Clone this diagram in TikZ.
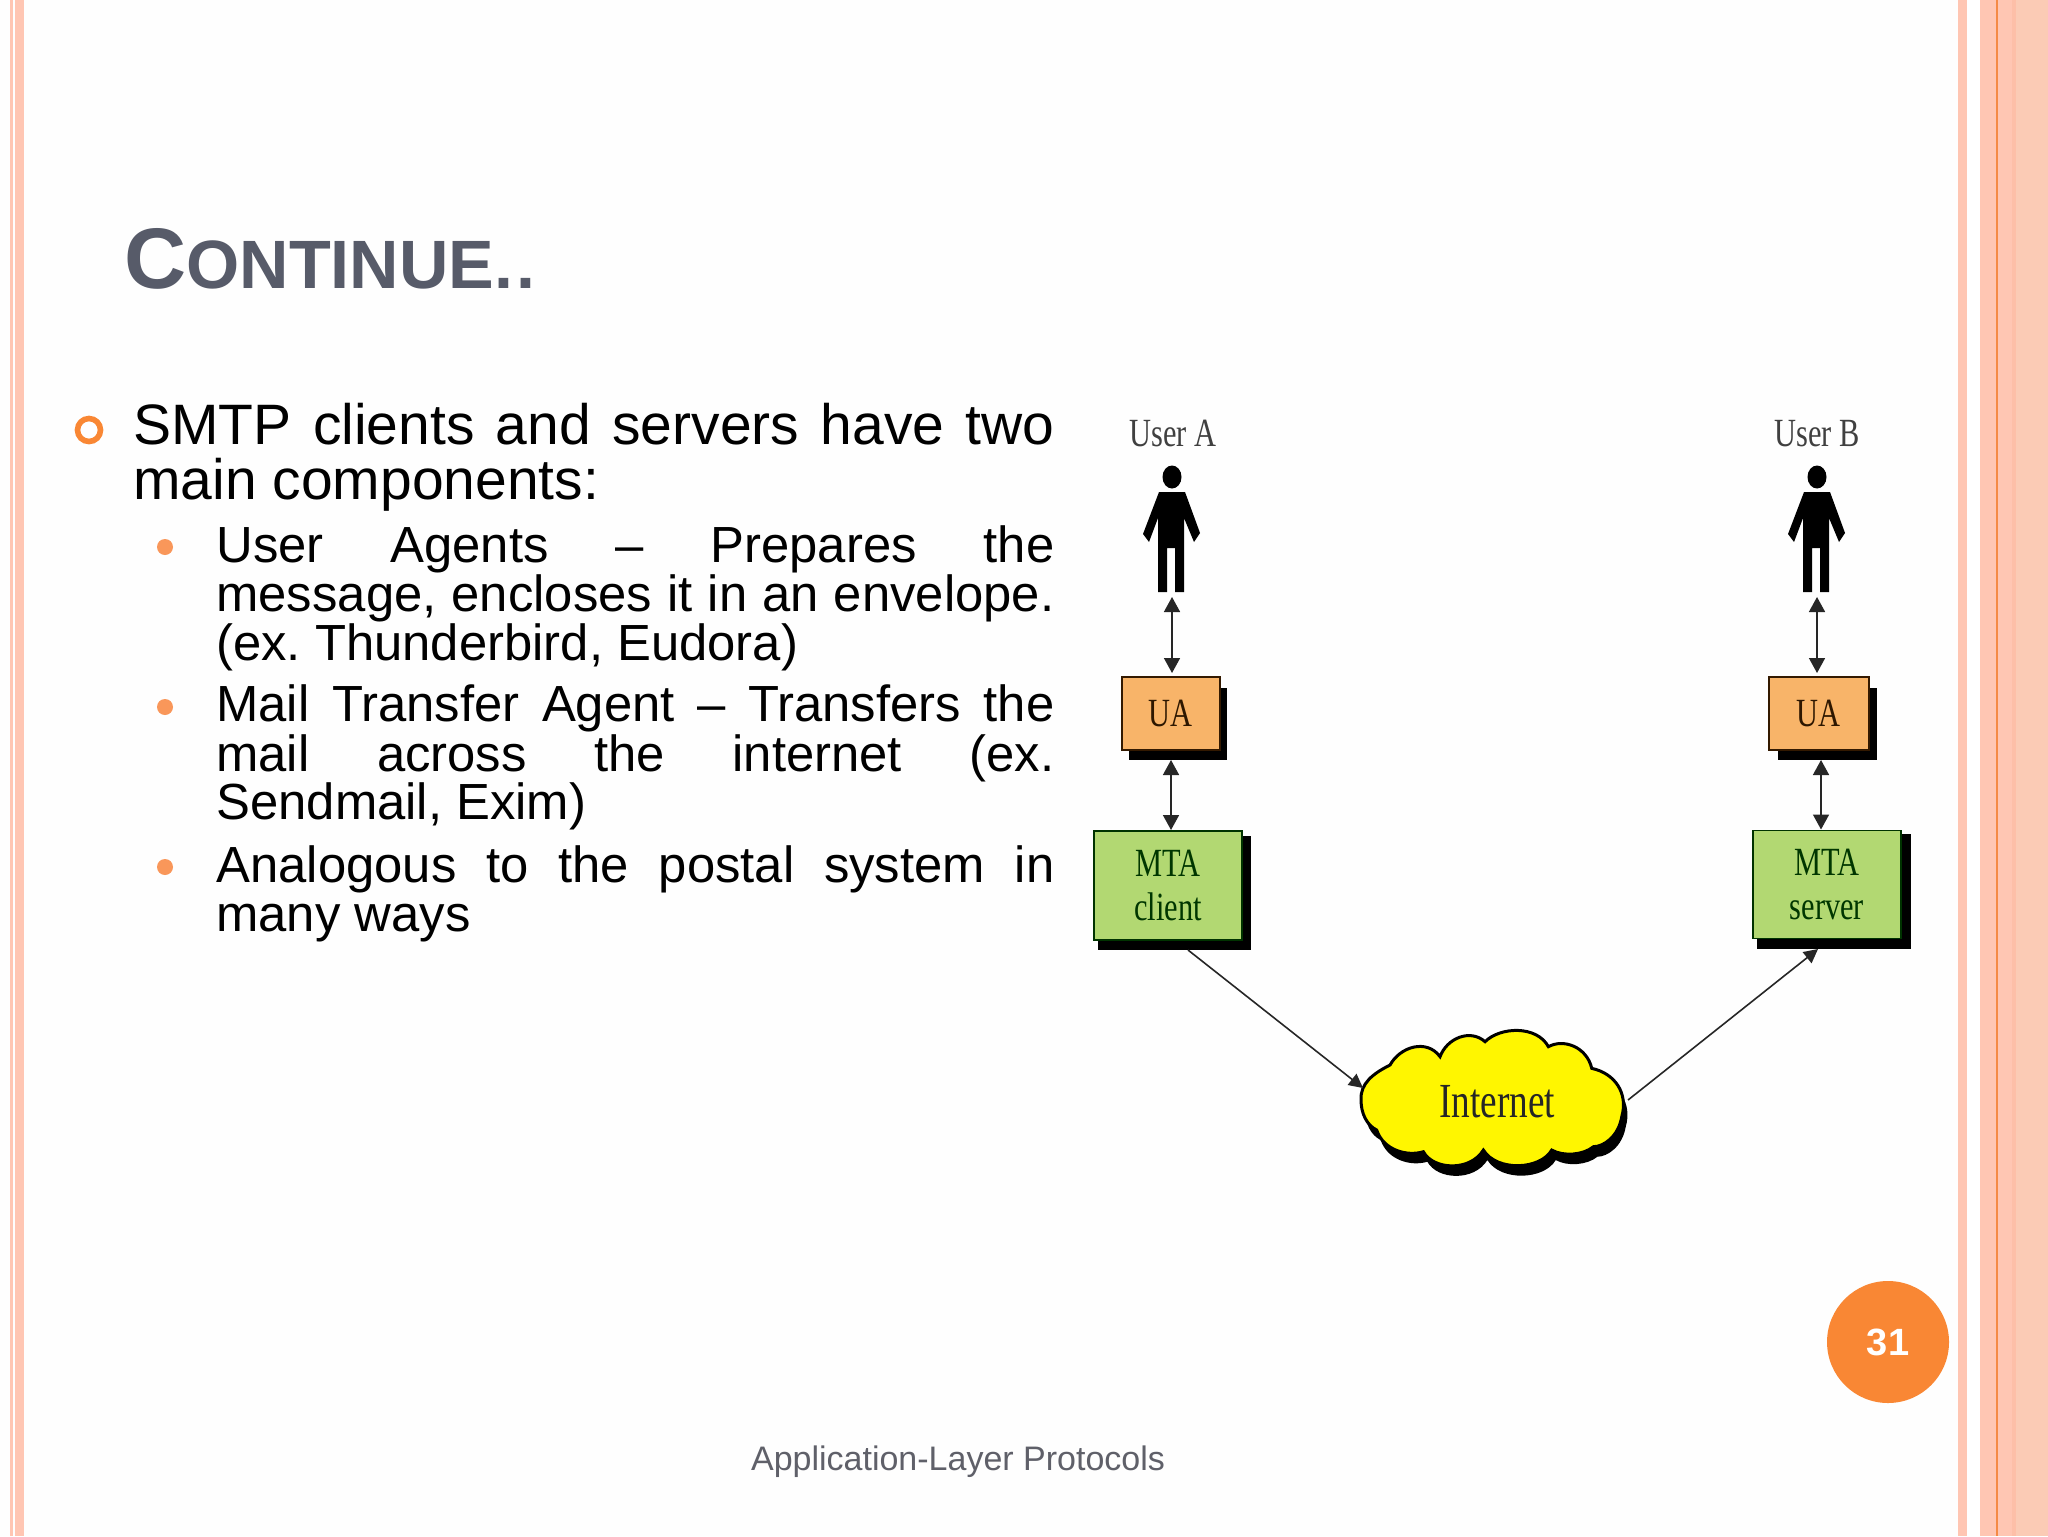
\documentclass[tikz,border=0pt]{standalone}
\usepackage{fontspec}
\setmainfont{Liberation Sans}
\newfontfamily\dfont[FakeStretch=0.76]{Liberation Serif}
\usetikzlibrary{arrows.meta,calc}
\definecolor{stripe}{HTML}{FFC6B3}
\definecolor{paleband}{HTML}{FBCBB5}
\definecolor{stripedark}{HTML}{FDBFA8}
\definecolor{orangeline}{HTML}{F58A45}
\definecolor{accent}{HTML}{F98734}
\definecolor{dot}{HTML}{F9975A}
\definecolor{titlecol}{HTML}{575B69}
\definecolor{footcol}{HTML}{5F6069}
\definecolor{uafill}{HTML}{F8B469}
\definecolor{mtafill}{HTML}{B2D872}
\definecolor{cloudfill}{HTML}{FFF600}
\tikzset{
  mainline/.style={anchor=base west,inner sep=0pt,font=\fontsize{28.5}{28.5}\selectfont,text=black},
  subline/.style={anchor=base west,inner sep=0pt,font=\fontsize{25.4}{25.4}\selectfont,text=black},
  dlabel/.style={inner sep=0pt,font=\dfont\fontsize{20}{20}\selectfont,text=black!75},
  uabox/.style={draw=black!80!orange,line width=.9pt,fill=uafill,inner sep=0pt,anchor=north west,
     font=\dfont\fontsize{20}{20}\selectfont,text=black!70!orange!60!black},
  mtabox/.style={draw=black!80!green,line width=.9pt,fill=mtafill,inner sep=0pt,anchor=north west,align=center,
     font=\dfont\fontsize{20}{22}\selectfont,text=black!70!green!70!black},
  link/.style={line width=.8pt,draw=black!85},
  dbl/.style={link,{Triangle[length=7.5pt,width=8pt]}-{Triangle[length=7.5pt,width=8pt]}},
  sgl/.style={link,-{Triangle[length=7pt,width=7pt]}},
  subdot/.style={circle,fill=dot,inner sep=0pt,minimum size=8pt},
}
\newcommand{\personshape}{(-13,492) -- (13,492) -- (28,533) -- (22,542) -- (12,518) -- (12,592) -- (3,592) -- (3,548) -- (-5,548) -- (-5,592) -- (-14,592) -- (-14,518) -- (-23,542) -- (-29,534) -- cycle}
\newcommand{\cloudshape}{(183,450)
 .. controls (180,400) and (220,370) .. (270,345)
 .. controls (300,290) and (380,265) .. (420,320)
 .. controls (440,265) and (510,235) .. (555,275)
 .. controls (600,230) and (710,225) .. (745,290)
 .. controls (790,265) and (860,290) .. (875,355)
 .. controls (945,370) and (985,430) .. (965,500)
 .. controls (955,560) and (910,590) .. (880,590)
 .. controls (850,615) and (790,620) .. (755,600)
 .. controls (720,660) and (590,665) .. (550,600)
 .. controls (510,665) and (400,660) .. (370,605)
 .. controls (320,620) and (250,600) .. (230,540)
 .. controls (200,525) and (183,490) .. (183,450) -- cycle}
\begin{document}
\frenchspacing
\begin{tikzpicture}[x=0.5pt,y=-0.5pt]
\useasboundingbox (0,0) rectangle (2048,1536);
\fill[white!99.5!black] (0,0) rectangle (2048,1536);
% side bands
\fill[stripe] (10,0) rectangle (13,1536);
\fill[stripe] (15,0) rectangle (24,1536);
\fill[stripe] (1958,0) rectangle (1967,1536);
\fill[white] (1967,0) rectangle (1980,1536);
\fill[stripe] (1980,0) rectangle (2012,1536);
\fill[stripedark] (2012,0) rectangle (2016,1536);
\fill[paleband] (2016,0) rectangle (2048,1536);
\fill[orangeline] (1995.5,0) rectangle (1998,1536);
% title
\node[anchor=base west,inner sep=0pt,text=titlecol,font=\bfseries] (title) at (124,288)
  {{\fontsize{43}{43}\selectfont C}{\fontsize{34.2}{34.2}\selectfont ONTINUE}{\fontsize{34}{34}\selectfont .\kern1.5pt.}};
% body
\node[circle,draw=accent,line width=2.8pt,inner sep=0pt,minimum size=11.5pt] (b0) at (89,430) {};
\node[mainline] (l1) at (133,444) {\makebox[460.5pt][s]{SMTP clients and servers have two}};
\node[mainline] (l2) at (133,499) {main components:};
\node[subdot] (b1) at (165,547) {};
\node[subline] (l3) at (216,562) {\makebox[419pt][s]{User Agents – Prepares the}};
\node[subline] (l4) at (216,611) {\makebox[419pt][s]{message, encloses it in an envelope.}};
\node[subline] (l5) at (216,660) {(ex. Thunderbird, Eudora)};
\node[subdot] (b2) at (165,707) {};
\node[subline] (l6) at (216,721) {\makebox[419pt][s]{Mail Transfer Agent – Transfers the}};
\node[subline] (l7) at (216,771) {\makebox[419pt][s]{mail across the internet (ex.}};
\node[subline] (l8) at (216,819) {Sendmail, Exim)};
\node[subdot] (b3) at (165,867) {};
\node[subline] (l9) at (216,882) {\makebox[419pt][s]{Analogous to the postal system in}};
\node[subline] (l10) at (216,931) {many ways};
% footer and page number
\node[anchor=base,inner sep=0pt,text=footcol,font=\fontsize{17}{17}\selectfont] (foot) at (958,1470) {Application-Layer Protocols};
\node[circle,fill=accent,minimum size=61pt,inner sep=0pt,text=white,font=\bfseries\fontsize{19}{19}\selectfont] (page) at (1888,1342) {31};
% user A column
\node[dlabel,anchor=base] (userA) at (1173,446) {User A};
\begin{scope}[shift={(1172,0)}]
  \fill[black] \personshape;
  \fill[black] (0,477) ellipse (9.5 and 11.5);
  \coordinate (footA) at (0,597);
  \coordinate (uaAtop) at (0,673);
\end{scope}
\fill[black] (1129,688) rectangle (1227,760);
\node[uabox,minimum width=49pt,minimum height=36.5pt] (uaA) at (1121,676) {UA};
\fill[black] (1098,836) rectangle (1251,950);
\node[mtabox,minimum width=74pt,minimum height=54.5pt] (mtaA) at (1093,830) {MTA\\client};
% user B column
\node[dlabel,anchor=base] (userB) at (1817,446) {User B};
\begin{scope}[shift={(1817,0)}]
  \fill[black] \personshape;
  \fill[black] (0,477) ellipse (9.5 and 11.5);
  \coordinate (footB) at (0,597);
  \coordinate (uaBtop) at (0,673);
\end{scope}
\fill[black] (1778,688) rectangle (1877,760);
\node[uabox,minimum width=50pt,minimum height=36.5pt] (uaB) at (1768,676) {UA};
\fill[black] (1757,834) rectangle (1911,949);
\node[mtabox,minimum width=74pt,minimum height=54pt] (mtaB) at (1752,829.5) {MTA\\server};
% cloud
\begin{scope}[shift={(1304,960)},x=0.1667pt,y=-0.1667pt]
  \fill[black] \cloudshape;
\end{scope}
\begin{scope}[shift={(1300,950)},x=0.1667pt,y=-0.1667pt]
  \filldraw[fill=cloudfill,draw=black,line width=1.5pt] \cloudshape;
\end{scope}
\node[inner sep=0pt,anchor=base,font=\dfont\fontsize{24.5}{24.5}\selectfont,text=black!85] (net) at (1497,1117) {Internet};
\coordinate (cloudL) at (1363,1088);
\coordinate (cloudR) at (1628,1100);
\coordinate (mtaAout) at (1188,950);
\coordinate (mtaBin) at (1818,949);
\coordinate (uaAbot) at (1171,760);
\coordinate (uaBbot) at (1821,760);
% connectors
\draw[dbl] (footA) -- (uaAtop);
\draw[dbl] (uaAbot) -- (uaAbot |- mtaA.north);
\draw[dbl] (footB) -- (uaBtop);
\draw[dbl] (uaBbot) -- (uaBbot |- mtaB.north);
\draw[sgl] (mtaAout) -- (cloudL);
\draw[sgl] (cloudR) -- (mtaBin);
\end{tikzpicture}
\end{document}
